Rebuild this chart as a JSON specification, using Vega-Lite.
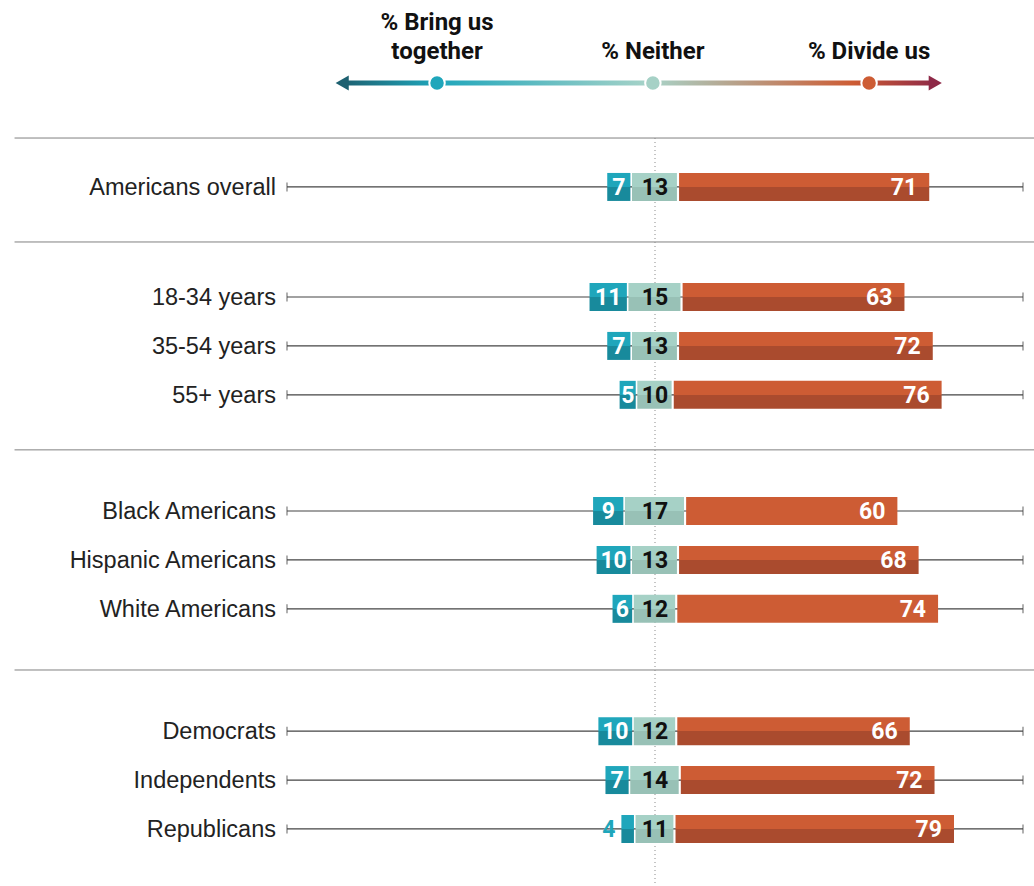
{
  "$schema": "https://vega.github.io/schema/vega-lite/v6.json",
  "width": 736,
  "height": 801,
  "autosize": {"type": "none"},
  "padding": {"left": 287, "top": 83, "right": 11, "bottom": 2},
  "background": "white",
  "config": {"view": {"stroke": null}, "text": {"font": "Roboto"}},
  "data": {
    "values": [
      {"label": "Americans overall", "bring": 7, "neither": 13, "divide": 71},
      {"label": "18-34 years", "bring": 11, "neither": 15, "divide": 63},
      {"label": "35-54 years", "bring": 7, "neither": 13, "divide": 72},
      {"label": "55+ years", "bring": 5, "neither": 10, "divide": 76},
      {"label": "Black Americans", "bring": 9, "neither": 17, "divide": 60},
      {"label": "Hispanic Americans", "bring": 10, "neither": 13, "divide": 68},
      {"label": "White Americans", "bring": 6, "neither": 12, "divide": 74},
      {"label": "Democrats", "bring": 10, "neither": 12, "divide": 66},
      {"label": "Independents", "bring": 7, "neither": 14, "divide": 72},
      {"label": "Republicans", "bring": 4, "neither": 11, "divide": 79}
    ]
  },
  "transform": [
    {"calculate": "-datum.neither/2", "as": "nL"},
    {"calculate": "datum.neither/2 - 0.3", "as": "nR"},
    {"calculate": "-datum.neither/2 - 0.45", "as": "bR"},
    {"calculate": "-datum.neither/2 - datum.bring", "as": "bL"},
    {"calculate": "-datum.neither/2 - 0.2 - datum.bring/2", "as": "bM"},
    {"calculate": "datum.neither/2 + 0.3", "as": "dL"},
    {"calculate": "datum.neither/2 + datum.divide", "as": "dR"}
  ],
  "encoding": {
    "y": {
      "field": "label",
      "type": "nominal",
      "axis": null,
      "scale": {
        "type": "point",
        "padding": 0,
        "domain": ["hdr","_1","_2","_3","_4","_5","_6","_7","_8","sep0","_10","_11","_12","_13","_14","_15","_16","Americans overall","_18","_19","_20","_21","_22","_23","_24","_25","sep1","_27","_28","_29","_30","_31","_32","_33","_34","18-34 years","_36","_37","_38","_39","_40","_41","_42","35-54 years","_44","_45","_46","_47","_48","_49","_50","55+ years","_52","_53","_54","_55","_56","_57","_58","_59","sep2","_61","_62","_63","_64","_65","_66","_67","_68","_69","Black Americans","_71","_72","_73","_74","_75","_76","_77","Hispanic Americans","_79","_80","_81","_82","_83","_84","_85","White Americans","_87","_88","_89","_90","_91","_92","_93","_94","_95","sep3","_97","_98","_99","_100","_101","_102","_103","_104","_105","Democrats","_107","_108","_109","_110","_111","_112","_113","Independents","_115","_116","_117","_118","_119","_120","_121","Republicans","_123","_124","_125","_126","_127","_128","_129","_130","_131"]
      }
    }
  },
  "layer": [
    {
      "data": {"values": [{"sep": "sep0"}, {"sep": "sep1"}, {"sep": "sep2"}, {"sep": "sep3"}]},
      "mark": {"type": "rule", "color": "#808080", "strokeWidth": 1},
      "encoding": {
        "x": {"datum": -181, "type": "quantitative", "axis": null},
        "x2": {"datum": 108},
        "y": {"field": "sep", "type": "nominal", "axis": null}
      }
    },
    {
      "mark": {"type": "rule", "color": "#444444", "strokeWidth": 1.2},
      "encoding": {
        "x": {"datum": -104, "type": "quantitative", "axis": null, "scale": {"domain": [-104, 104], "nice": false, "zero": false}},
        "x2": {"datum": 104}
      }
    },
    {
      "mark": {"type": "tick", "color": "#444444", "size": 9, "thickness": 1.2, "orient": "vertical"},
      "encoding": {"x": {"datum": -104, "type": "quantitative", "axis": null}}
    },
    {
      "mark": {"type": "tick", "color": "#444444", "size": 9, "thickness": 1.2, "orient": "vertical"},
      "encoding": {"x": {"datum": 104, "type": "quantitative", "axis": null}}
    },
    {
      "data": {"values": [{}]},
      "mark": {"type": "rule", "color": "#8a8a8a", "strokeWidth": 1, "strokeDash": [1, 3]},
      "encoding": {
        "x": {"datum": 0, "type": "quantitative", "axis": null},
        "y": {"datum": "sep0", "type": "nominal", "axis": null},
        "y2": {"datum": "_131"}
      }
    },
    {
      "mark": {"type": "bar", "height": 28, "color": {"gradient": "linear", "x1": 0, "y1": 0, "x2": 0, "y2": 1, "stops": [{"offset": 0, "color": "#1fa6bb"}, {"offset": 0.5, "color": "#1fa6bb"}, {"offset": 0.5, "color": "#188a9c"}, {"offset": 1, "color": "#188a9c"}]}},
      "encoding": {
        "x": {"field": "bL", "type": "quantitative", "axis": null},
        "x2": {"field": "bR"}
      }
    },
    {
      "mark": {"type": "bar", "height": 28, "color": {"gradient": "linear", "x1": 0, "y1": 0, "x2": 0, "y2": 1, "stops": [{"offset": 0, "color": "#a6d1c6"}, {"offset": 0.5, "color": "#a6d1c6"}, {"offset": 0.5, "color": "#98c1b6"}, {"offset": 1, "color": "#98c1b6"}]}},
      "encoding": {
        "x": {"field": "nL", "type": "quantitative", "axis": null},
        "x2": {"field": "nR"}
      }
    },
    {
      "transform": [{"filter": "datum.label !== 'Black Americans' && datum.label !== 'White Americans'"}],
      "mark": {"type": "bar", "height": 28, "color": {"gradient": "linear", "x1": 0, "y1": 0, "x2": 0, "y2": 1, "stops": [{"offset": 0, "color": "#cd5c34"}, {"offset": 0.5, "color": "#cd5c34"}, {"offset": 0.5, "color": "#aa4b2e"}, {"offset": 1, "color": "#aa4b2e"}]}},
      "encoding": {
        "x": {"field": "dL", "type": "quantitative", "axis": null},
        "x2": {"field": "dR"}
      }
    },
    {
      "transform": [{"filter": "datum.label === 'Black Americans' || datum.label === 'White Americans'"}],
      "mark": {"type": "bar", "height": 28, "color": "#cd5c34"},
      "encoding": {
        "x": {"field": "dL", "type": "quantitative", "axis": null},
        "x2": {"field": "dR"}
      }
    },
    {
      "transform": [{"filter": "datum.bring >= 5"}],
      "mark": {"type": "text", "font": "Roboto", "fontWeight": "bold", "fontSize": 23, "color": "white", "align": "center", "baseline": "middle", "dy": 1},
      "encoding": {
        "x": {"field": "bM", "type": "quantitative", "axis": null},
        "text": {"field": "bring"}
      }
    },
    {
      "transform": [{"filter": "datum.bring < 5"}],
      "mark": {"type": "text", "font": "Roboto", "fontWeight": "bold", "fontSize": 23, "color": "#1fa6bb", "align": "right", "baseline": "middle", "dx": -6, "dy": 1},
      "encoding": {
        "x": {"field": "bL", "type": "quantitative", "axis": null},
        "text": {"field": "bring"}
      }
    },
    {
      "mark": {"type": "text", "font": "Roboto", "fontWeight": "bold", "fontSize": 23, "color": "#111111", "align": "center", "baseline": "middle", "dy": 1},
      "encoding": {
        "x": {"datum": 0, "type": "quantitative", "axis": null},
        "text": {"field": "neither"}
      }
    },
    {
      "mark": {"type": "text", "font": "Roboto", "fontWeight": "bold", "fontSize": 23, "color": "white", "align": "right", "baseline": "middle", "dx": -12, "dy": 1},
      "encoding": {
        "x": {"field": "dR", "type": "quantitative", "axis": null},
        "text": {"field": "divide"}
      }
    },
    {
      "mark": {"type": "text", "font": "Liberation Sans", "fontSize": 23.5, "color": "#222222", "align": "right", "baseline": "middle", "dx": -11, "dy": 1},
      "encoding": {
        "x": {"datum": -104, "type": "quantitative", "axis": null},
        "text": {"field": "label"}
      }
    },
    {
      "data": {"values": [{}]},
      "mark": {"type": "bar", "height": 5, "color": {"gradient": "linear", "x1": 0, "y1": 0, "x2": 1, "y2": 0, "stops": [{"offset": 0, "color": "#1d6070"}, {"offset": 0.16, "color": "#1fa6bb"}, {"offset": 0.52, "color": "#a8d3c8"}, {"offset": 0.86, "color": "#cd5c34"}, {"offset": 1, "color": "#8e2947"}]}},
      "encoding": {
        "x": {"datum": -88.5, "type": "quantitative", "axis": null},
        "x2": {"datum": 79.5},
        "y": {"datum": "hdr", "type": "nominal", "axis": null}
      }
    },
    {
      "data": {"values": [{}]},
      "mark": {"type": "point", "shape": "triangle-left", "filled": true, "size": 230, "color": "#1d6070", "opacity": 1},
      "encoding": {
        "x": {"datum": -88.4, "type": "quantitative", "axis": null},
        "y": {"datum": "hdr", "type": "nominal", "axis": null}
      }
    },
    {
      "data": {"values": [{}]},
      "mark": {"type": "point", "shape": "triangle-right", "filled": true, "size": 230, "color": "#8e2947", "opacity": 1},
      "encoding": {
        "x": {"datum": 79.2, "type": "quantitative", "axis": null},
        "y": {"datum": "hdr", "type": "nominal", "axis": null}
      }
    },
    {
      "data": {"values": [{}]},
      "mark": {"type": "point", "shape": "circle", "filled": true, "size": 240, "color": "#1fa6bb", "stroke": "white", "strokeWidth": 2, "opacity": 1},
      "encoding": {
        "x": {"datum": -61.6, "type": "quantitative", "axis": null},
        "y": {"datum": "hdr", "type": "nominal", "axis": null}
      }
    },
    {
      "data": {"values": [{}]},
      "mark": {"type": "point", "shape": "circle", "filled": true, "size": 240, "color": "#a6d1c6", "stroke": "white", "strokeWidth": 2, "opacity": 1},
      "encoding": {
        "x": {"datum": -0.6, "type": "quantitative", "axis": null},
        "y": {"datum": "hdr", "type": "nominal", "axis": null}
      }
    },
    {
      "data": {"values": [{}]},
      "mark": {"type": "point", "shape": "circle", "filled": true, "size": 240, "color": "#cd5c34", "stroke": "white", "strokeWidth": 2, "opacity": 1},
      "encoding": {
        "x": {"datum": 60.5, "type": "quantitative", "axis": null},
        "y": {"datum": "hdr", "type": "nominal", "axis": null}
      }
    },
    {
      "data": {"values": [{}]},
      "mark": {"type": "text", "text": ["% Bring us", "together"], "lineHeight": 29, "font": "Roboto", "fontWeight": "bold", "fontSize": 24, "color": "#111111", "align": "center", "baseline": "bottom", "dy": -48},
      "encoding": {
        "x": {"datum": -61.6, "type": "quantitative", "axis": null},
        "y": {"datum": "hdr", "type": "nominal", "axis": null}
      }
    },
    {
      "data": {"values": [{}]},
      "mark": {"type": "text", "text": "% Neither", "font": "Roboto", "fontWeight": "bold", "fontSize": 24, "color": "#111111", "align": "center", "baseline": "bottom", "dy": -19},
      "encoding": {
        "x": {"datum": -0.6, "type": "quantitative", "axis": null},
        "y": {"datum": "hdr", "type": "nominal", "axis": null}
      }
    },
    {
      "data": {"values": [{}]},
      "mark": {"type": "text", "text": "% Divide us", "font": "Roboto", "fontWeight": "bold", "fontSize": 24, "color": "#111111", "align": "center", "baseline": "bottom", "dy": -19},
      "encoding": {
        "x": {"datum": 60.5, "type": "quantitative", "axis": null},
        "y": {"datum": "hdr", "type": "nominal", "axis": null}
      }
    }
  ]
}
